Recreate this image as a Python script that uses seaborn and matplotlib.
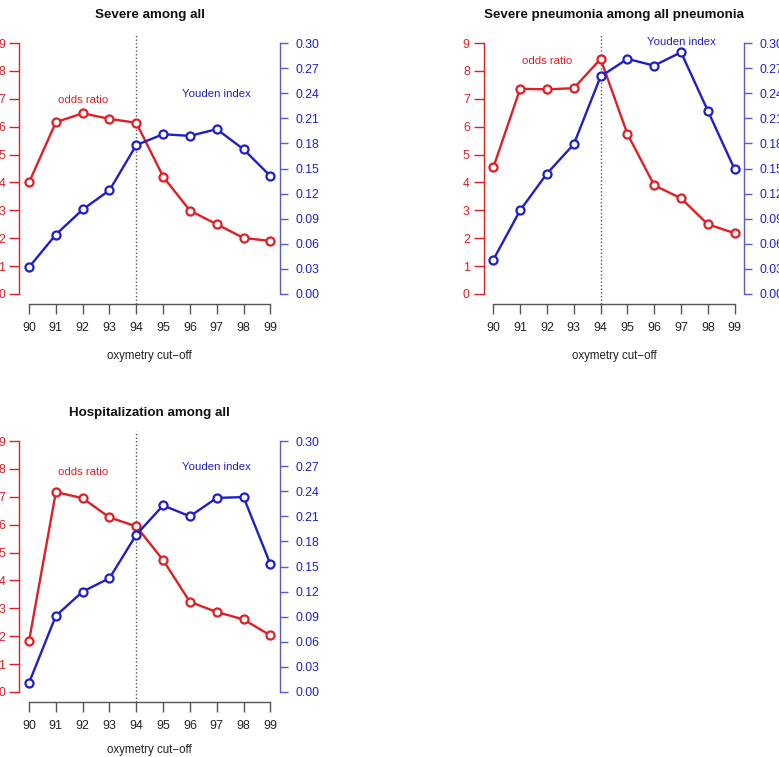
import matplotlib
matplotlib.use("Agg")
import matplotlib.pyplot as plt
import seaborn as sns
import pandas as pd

cutoffs = [90, 91, 92, 93, 94, 95, 96, 97, 98, 99]

titles = ["Severe among all",
          "Severe pneumonia among all pneumonia",
          "Hospitalization among all"]

odds_severe = [4.00, 6.16, 6.48, 6.28, 6.14, 4.21, 2.99, 2.50, 2.01, 1.90]
youden_severe = [0.032, 0.071, 0.101, 0.124, 0.178, 0.191, 0.189, 0.197, 0.173, 0.141]

odds_pneu = [4.54, 7.36, 7.34, 7.38, 8.43, 5.74, 3.90, 3.43, 2.50, 2.18]
youden_pneu = [0.041, 0.100, 0.144, 0.179, 0.260, 0.281, 0.273, 0.289, 0.219, 0.149]

odds_hosp = [1.83, 7.17, 6.95, 6.26, 5.94, 4.73, 3.23, 2.87, 2.60, 2.03]
youden_hosp = [0.011, 0.091, 0.120, 0.136, 0.188, 0.223, 0.210, 0.232, 0.233, 0.153]

left_ticks = [0, 1, 2, 3, 4, 5, 6, 7, 8, 9]
right_ticks = [0.00, 0.03, 0.06, 0.09, 0.12, 0.15, 0.18, 0.21, 0.24, 0.27, 0.30]
cut_line = 94
xlabel = "oxymetry cut\u2212off"

# label positions (data coords): (x, y) for odds label and youden label
odds_label_pos = [(92.0, 6.95), (92.0, 8.35), (92.0, 7.9)]
youden_label_pos = [(97.0, 7.17), (97.0, 9.04), (97.0, 8.07)]

sns.set_style("white")
plt.rcParams['font.family'] = ['Liberation Sans', 'DejaVu Sans']

RED = "#DD1F26"
BLUE = "#1F1FC4"
BLUE_AX = "#5B5BC0"
GRAY = "#555555"

W, H = 779, 757
fig = plt.figure(figsize=(W / 100, H / 100), dpi=100)

positions = [
    (19.4 / W, 1 - 304 / H, 260.6 / W, 271 / H),
    (483.7 / W, 1 - 304 / H, 260.6 / W, 271 / H),
    (19.4 / W, 1 - 702 / H, 260.6 / W, 271 / H),
]

datasets = [(odds_severe, youden_severe), (odds_pneu, youden_pneu), (odds_hosp, youden_hosp)]

for i, (pos, (odds, youd)) in enumerate(zip(positions, datasets)):
    ax = fig.add_axes(pos)
    ax.patch.set_alpha(0)
    ax2 = ax.twinx()
    ax2.patch.set_alpha(0)

    df = pd.DataFrame({"cutoff": cutoffs, "odds": odds, "youden": youd})

    ax.axvline(cut_line, color="#555555", lw=1.0, ls=(0, (1, 1.6)), zorder=1)

    sns.lineplot(data=df, x="cutoff", y="odds", ax=ax, color=RED, lw=1.7,
                 marker="o", markersize=5.8, markerfacecolor="white",
                 markeredgecolor=RED, markeredgewidth=1.6, zorder=3)
    sns.lineplot(data=df, x="cutoff", y="youden", ax=ax2, color=BLUE, lw=1.7,
                 marker="o", markersize=5.8, markerfacecolor="white",
                 markeredgecolor=BLUE, markeredgewidth=1.6, zorder=3)

    ax.set_xlim(89.64, 99.36)
    ax.set_ylim(-0.36, 9.36)
    ax2.set_ylim(-0.012, 0.312)

    for a in (ax, ax2):
        for s in a.spines.values():
            s.set_visible(False)
        a.set_xlabel("")
        a.set_ylabel("")

    ax.spines["left"].set_visible(True)
    ax.spines["left"].set_bounds(0, 9)
    ax.spines["left"].set_color(RED)
    ax.spines["left"].set_linewidth(1.0)
    ax.spines["bottom"].set_visible(True)
    ax.spines["bottom"].set_bounds(90, 99)
    ax.spines["bottom"].set_color(GRAY)
    ax.spines["bottom"].set_linewidth(1.0)

    ax2.spines["right"].set_visible(True)
    ax2.spines["right"].set_bounds(0, 0.30)
    ax2.spines["right"].set_color(BLUE_AX)
    ax2.spines["right"].set_linewidth(1.0)

    ax.set_xticks(cutoffs)
    ax.set_xticklabels([str(c) for c in cutoffs])
    ax.set_yticks(left_ticks)
    ax.set_yticklabels([str(t) for t in left_ticks])
    ax2.set_yticks(right_ticks)
    ax2.set_yticklabels([f"{t:.2f}" for t in right_ticks])

    ax.tick_params(axis="x", direction="out", length=7, width=1.0, color=GRAY,
                   labelsize=8.9, labelcolor="#222222", pad=6, bottom=True)
    ax.tick_params(axis="y", direction="out", length=7, width=1.0, color=RED,
                   labelsize=8.9, labelcolor=RED, pad=3, left=True)
    ax2.tick_params(axis="y", direction="out", length=6, width=1.0, color=BLUE_AX,
                    labelsize=8.7, labelcolor=BLUE, pad=5, right=True)

    ax.set_title(titles[i], fontsize=9.6, fontweight="bold", color="#111111", pad=11)

    ox, oy = odds_label_pos[i]
    ax.text(ox, oy, "odds ratio", color=RED, fontsize=8.2, ha="center", va="center")
    yx, yy = youden_label_pos[i]
    ax.text(yx, yy, "Youden index", color=BLUE, fontsize=8.2, ha="center", va="center")

    ax.text(0.5, -(750 - 702) / 271 if i == 2 else -(356 - 304) / 271, xlabel,
            transform=ax.transAxes, ha="center", va="center", fontsize=8.3, color="#222222")

fig.savefig("out.png", dpi=100)
